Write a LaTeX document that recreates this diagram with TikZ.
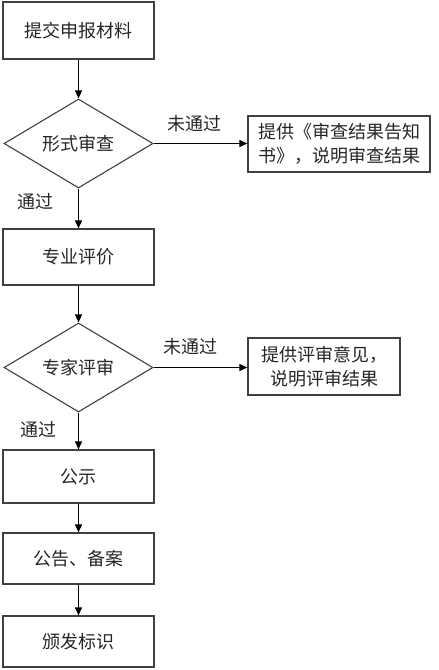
\documentclass[tikz,border=0pt]{standalone}
\usepackage{fontspec}
\newfontfamily\cjk{Noto Sans CJK SC}
\usetikzlibrary{shapes.geometric,arrows.meta}
\begin{document}
\begin{tikzpicture}[x=1bp,y=-1bp,
  txt/.style={font=\cjk\fontsize{18bp}{24bp}\selectfont,text=black!85},
  box/.style={txt,draw=black!75,line width=1.2bp,rectangle,inner sep=0pt,align=center},
  mainbox/.style={box,minimum width=151bp},
  dec/.style={txt,draw=black!75,line width=1.1bp,diamond,inner sep=0pt,aspect=1.67,minimum width=149bp,minimum height=89bp},
  arr/.style={draw=black,line width=1bp,-{Triangle[length=8bp,width=7bp]}},
  lbl/.style={txt,inner sep=0pt}]
\useasboundingbox (0,0) rectangle (439,670);
\node[mainbox,minimum height=57bp] (b1) at (78.5,30.5) {提交申报材料};
\node[dec] (d1) at (78.5,143.5) {形式审查};
\node[box,minimum width=182bp,minimum height=56bp] (r1) at (339,144) {提供《审查结果告知\\书》，说明审查结果};
\node[mainbox,minimum height=56bp] (b2) at (78.5,257) {专业评价};
\node[dec] (d2) at (78.5,367.5) {专家评审};
\node[box,minimum width=152bp,minimum height=57bp] (r2) at (324,366.5) {提供评审意见，\\说明评审结果};
\node[mainbox,minimum height=53bp] (b3) at (78.5,476.5) {公示};
\node[mainbox,minimum height=51bp] (b4) at (78.5,558.5) {公告、备案};
\node[mainbox,minimum height=51bp] (b5) at (78.5,641.5) {颁发标识};
\node[lbl] (l1) at (194,124) {未通过};
\node[lbl] (l2) at (35,202) {通过};
\node[lbl] (l3) at (190,347) {未通过};
\node[lbl] (l4) at (38,430) {通过};
\draw[arr] (b1) -- (d1);
\draw[arr] (d1.east) -- (d1.east -| r1.west);
\draw[arr] (d1) -- (b2);
\draw[arr] (b2) -- (d2);
\draw[arr] (d2.east) -- (d2.east -| r2.west);
\draw[arr] (d2) -- (b3);
\draw[arr] (b3) -- (b4);
\draw[arr] (b4) -- (b5);
\end{tikzpicture}
\end{document}
